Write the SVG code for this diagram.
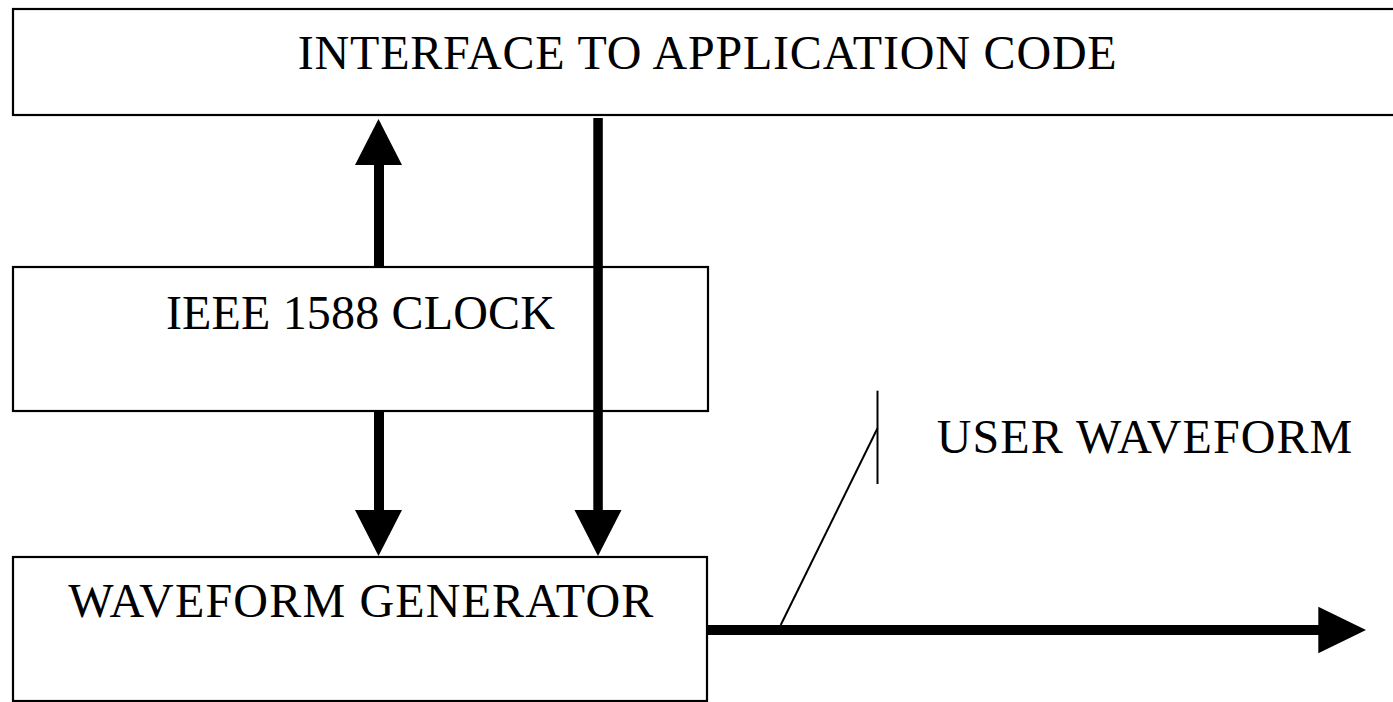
<svg xmlns="http://www.w3.org/2000/svg" width="1393" height="702" viewBox="0 0 1393 702">
<style>
.box{fill:#fff;stroke:#000;stroke-width:2.2}
.lbl{font-family:"Liberation Serif","Times New Roman",serif;font-size:48px;fill:#000;text-anchor:middle}
.shaft{fill:#000}
.head{fill:#000}
.thin{stroke:#000;stroke-width:2;fill:none}
</style>
<rect width="1393" height="702" fill="#fff"/>
<g id="node-interface">
<rect class="box" x="13" y="9" width="1400" height="106"/>
<text class="lbl" x="707.2" y="69.3" textLength="819" lengthAdjust="spacing">INTERFACE TO APPLICATION CODE</text>
</g>
<g id="node-clock">
<rect class="box" x="13" y="267" width="695" height="144"/>
<text class="lbl" x="360.4" y="329.3" textLength="389" lengthAdjust="spacing">IEEE 1588 CLOCK</text>
</g>
<g id="node-generator">
<rect class="box" x="13" y="557" width="694" height="144"/>
<text class="lbl" x="360.8" y="617.3" textLength="585" lengthAdjust="spacing">WAVEFORM GENERATOR</text>
</g>
<g id="connectors">
<rect class="shaft" x="374" y="164" width="10" height="102"/>
<polygon class="head" points="378.5,119 355,165 402,165"/>
<rect class="shaft" x="593.3" y="118" width="9.5" height="393"/>
<polygon class="head" points="598,556 574.5,510 621.5,510"/>
<rect class="shaft" x="374" y="411" width="10" height="100"/>
<polygon class="head" points="378.5,556 355,510 402,510"/>
<rect class="shaft" x="708" y="625" width="611" height="10"/>
<polygon class="head" points="1366,630 1318.3,606.7 1318.3,653.3"/>
</g>
<g id="label-user-waveform">
<line class="thin" x1="780.7" y1="625" x2="877.5" y2="428.3"/>
<line class="thin" x1="877.5" y1="390.7" x2="877.5" y2="484"/>
<text class="lbl" x="1144.5" y="453.3" textLength="415.6" lengthAdjust="spacing">USER WAVEFORM</text>
</g>
</svg>
